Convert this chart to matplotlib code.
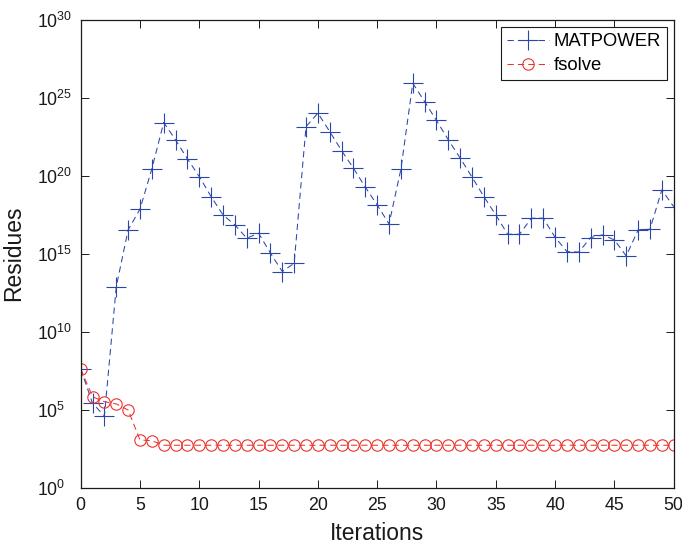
import matplotlib
matplotlib.use("Agg")
import matplotlib.pyplot as plt
from matplotlib.ticker import FixedLocator, NullLocator
import numpy as np

plt.rcParams['font.family'] = ['Liberation Sans', 'DejaVu Sans']
plt.rcParams['mathtext.fontset'] = 'custom'
plt.rcParams['mathtext.rm'] = 'Liberation Sans'
plt.rcParams['mathtext.it'] = 'Liberation Sans:italic'

iterations = list(range(0, 51))
# log10 of residues
matpower_log = [7.61, 5.41, 4.60, 12.88, 16.52, 17.85, 20.43, 23.40, 22.29, 21.07,
                19.94, 18.65, 17.48, 16.84, 15.99, 16.31, 15.03, 13.85, 14.38, 23.14,
                24.00, 22.82, 21.60, 20.47, 19.26, 18.12, 16.90, 20.41, 25.92, 24.74,
                23.53, 22.29, 21.12, 19.90, 18.65, 17.48, 16.24, 16.24, 17.27, 17.27,
                16.05, 15.13, 15.10, 16.03, 16.20, 15.88, 14.85, 16.52, 16.56, 19.08,
                18.01]
fsolve_log = [7.61, 5.83, 5.51, 5.37, 4.98, 3.06, 3.01] + [2.72] * 44

x_ticks = [0, 5, 10, 15, 20, 25, 30, 35, 40, 45, 50]
y_ticks = [1e0, 1e5, 1e10, 1e15, 1e20, 1e25, 1e30]
y_tick_labels = [r'$\mathdefault{10^{0}}$', r'$\mathdefault{10^{5}}$', r'$\mathdefault{10^{10}}$',
                 r'$\mathdefault{10^{15}}$', r'$\mathdefault{10^{20}}$', r'$\mathdefault{10^{25}}$',
                 r'$\mathdefault{10^{30}}$']

blue = '#2b46aa'
red = '#e8342c'

fig = plt.figure(figsize=(6.82, 5.47), dpi=100)
ax = fig.add_axes([0.1183, 0.1084, 0.8695, 0.8559])

mp = 10.0 ** np.array(matpower_log)
fs = 10.0 ** np.array(fsolve_log)

ax.plot(iterations, mp, linestyle='--', dashes=(6, 4), color=blue, lw=0.75,
        marker='+', markersize=14.5, markeredgewidth=0.8, label='MATPOWER')
ax.plot(iterations, fs, linestyle='--', dashes=(6, 4), color=red, lw=0.75,
        marker='o', markersize=8.2, markeredgewidth=0.8, markerfacecolor='none',
        label='fsolve')

ax.set_yscale('log')
ax.set_xlim(0, 50)
ax.set_ylim(1e0, 1e30)
ax.xaxis.set_major_locator(FixedLocator(x_ticks))
ax.yaxis.set_major_locator(FixedLocator(y_ticks))
ax.yaxis.set_minor_locator(NullLocator())
ax.xaxis.set_minor_locator(NullLocator())
ax.set_xticklabels([str(t) for t in x_ticks])
ax.set_yticklabels(y_tick_labels)

ax.tick_params(axis='both', which='major', direction='in', length=5.5, width=0.7,
               top=True, right=True, labelsize=12.8, colors='#1a1a1a')
ax.tick_params(axis='x', pad=6.5)
ax.tick_params(axis='y', pad=31.5)
for lab in ax.get_yticklabels():
    lab.set_horizontalalignment('left')

for sp in ax.spines.values():
    sp.set_linewidth(0.9)
    sp.set_color('#1a1a1a')

ax.set_xlabel('Iterations', fontsize=16.5, color='#1a1a1a')
ax.set_ylabel('Residues', fontsize=16.5, color='#1a1a1a')
ax.yaxis.set_label_coords(-0.094, 0.5)
ax.xaxis.set_label_coords(0.5, -0.074)

leg = ax.legend(loc='upper right', bbox_to_anchor=(0.988, 0.983), borderaxespad=0,
                fontsize=13.3, frameon=True, fancybox=False, framealpha=1,
                edgecolor='#1a1a1a', handlelength=2.3, handletextpad=0.25,
                borderpad=0.3, labelspacing=0.4)
leg.get_frame().set_linewidth(0.8)

fig.savefig('out.png', dpi=100)
